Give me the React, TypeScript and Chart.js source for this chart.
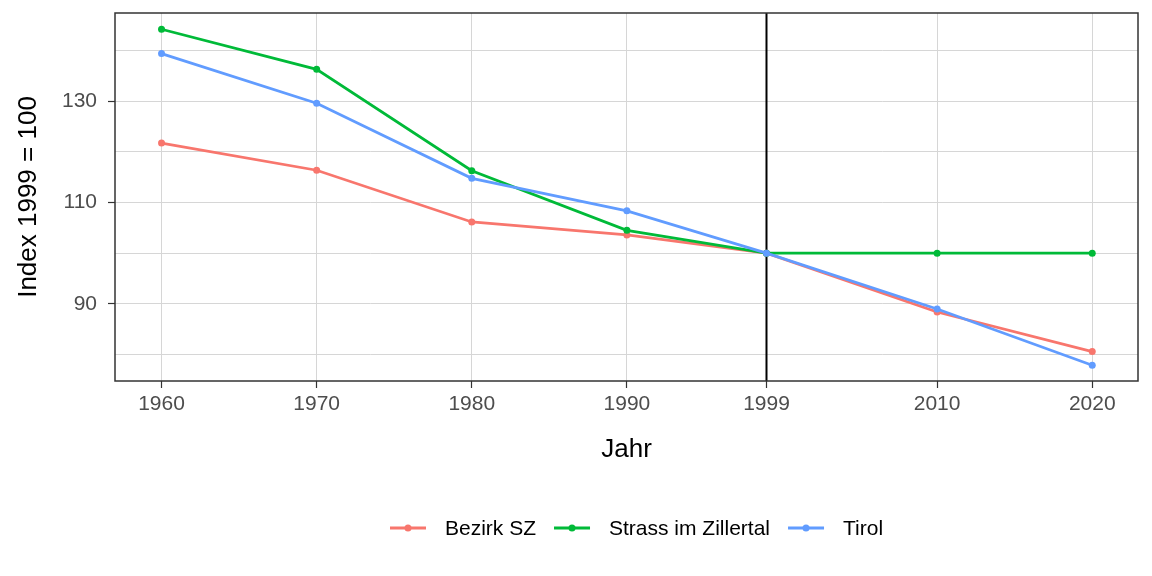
import React, { useEffect, useRef } from "react";
import { Chart, registerables } from "chart.js";

Chart.register(...registerables);

// ---- data ----
const years = [1960, 1970, 1980, 1990, 1999, 2010, 2020];
const xTickValues = [1960, 1970, 1980, 1990, 1999, 2010, 2020];
const yTickValues = [80, 90, 100, 110, 120, 130, 140];
const yLabeledTicks = [90, 110, 130];
const bezirkSZ = [121.7, 116.35, 106.15, 103.6, 100, 88.4, 80.6];
const strass = [144.15, 136.25, 116.25, 104.5, 100, 100, 100];
const tirol = [139.35, 129.55, 114.75, 108.35, 100, 89.0, 77.9];
const seriesNames = ["Bezirk SZ", "Strass im Zillertal", "Tirol"];
const seriesColors = ["#F8766D", "#00BA38", "#619CFF"];
const referenceYear = 1999;
const xTitle = "Jahr";
const yTitle = "Index 1999 = 100";

const FONT = '"Liberation Sans", Arial, Helvetica, sans-serif';

export default function App() {
  const canvasRef = useRef<HTMLCanvasElement | null>(null);

  useEffect(() => {
    const canvas = canvasRef.current;
    if (!canvas) return;
    const seriesValues = [bezirkSZ, strass, tirol];

    const vlinePlugin = {
      id: "vline",
      beforeDatasetsDraw(chart: any) {
        const { ctx, chartArea, scales } = chart;
        const x = scales.x.getPixelForValue(referenceYear);
        ctx.save();
        ctx.strokeStyle = "#000000";
        ctx.lineWidth = 2;
        ctx.beginPath();
        ctx.moveTo(x, chartArea.top);
        ctx.lineTo(x, chartArea.bottom);
        ctx.stroke();
        ctx.restore();
      },
      afterDatasetsDraw(chart: any) {
        const { ctx, chartArea } = chart;
        ctx.save();
        ctx.strokeStyle = "#333333";
        ctx.lineWidth = 1.5;
        ctx.strokeRect(
          chartArea.left,
          chartArea.top,
          chartArea.right - chartArea.left,
          chartArea.bottom - chartArea.top
        );
        ctx.restore();
      },
      afterDraw(chart: any) {
        const ctx = chart.ctx;
        ctx.save();
        ctx.font = `21px ${FONT}`;
        ctx.textBaseline = "middle";
        ctx.textAlign = "left";
        let x = 390;
        const y = 528;
        seriesNames.forEach((name, i) => {
          ctx.strokeStyle = seriesColors[i];
          ctx.lineWidth = 2.8;
          ctx.beginPath();
          ctx.moveTo(x, y);
          ctx.lineTo(x + 36, y);
          ctx.stroke();
          ctx.fillStyle = seriesColors[i];
          ctx.beginPath();
          ctx.arc(x + 18, y, 3.5, 0, Math.PI * 2);
          ctx.fill();
          ctx.fillStyle = "#000000";
          ctx.fillText(name, x + 55, y + 1);
          x += 55 + ctx.measureText(name).width + 18;
        });
        ctx.restore();
      },
    };

    const chart = new Chart(canvas, {
      type: "line",
      data: {
        datasets: seriesNames.map((name, i) => ({
          label: name,
          data: years.map((yr, j) => ({ x: yr, y: seriesValues[i][j] })),
          borderColor: seriesColors[i],
          backgroundColor: seriesColors[i],
          borderWidth: 2.8,
          pointRadius: 3.5,
          pointHoverRadius: 3.5,
          pointBorderWidth: 0,
          tension: 0,
          fill: false,
          order: 3 - i,
        })),
      },
      options: {
        responsive: false,
        animation: false,
        events: [],
        layout: { padding: { top: 13, right: 14, bottom: 0, left: 0 } },
        plugins: {
          legend: { display: false },
          tooltip: { enabled: false },
        },
        scales: {
          x: {
            type: "linear",
            min: 1957,
            max: 2022.95,
            afterBuildTicks(scale: any) {
              scale.ticks = xTickValues.map((v) => ({ value: v }));
            },
            afterFit(scale: any) {
              scale.height = 195;
              scale.paddingLeft = 0;
              scale.paddingRight = 0;
            },
            ticks: {
              autoSkip: false,
              maxRotation: 0,
              padding: 4,
              color: "#4D4D4D",
              font: { family: FONT, size: 21 },
              callback: (v: any) => String(v),
            },
            grid: {
              color: "#D6D6D6",
              lineWidth: 1,
              tickLength: 7,
              tickColor: "#333333",
              tickWidth: 1.2,
            },
            border: { display: false },
            title: {
              display: true,
              text: xTitle,
              color: "#000000",
              font: { family: FONT, size: 26 },
              padding: { top: 0, bottom: 111 },
            },
          },
          y: {
            type: "linear",
            min: 74.8,
            max: 147.35,
            afterBuildTicks(scale: any) {
              scale.ticks = yTickValues.map((v) => ({ value: v }));
            },
            afterFit(scale: any) {
              scale.width = 115;
              scale.paddingTop = 0;
              scale.paddingBottom = 0;
            },
            ticks: {
              autoSkip: false,
              padding: 11,
              color: "#4D4D4D",
              font: { family: FONT, size: 21 },
              callback: (v: any) => (yLabeledTicks.includes(Number(v)) ? String(v) : ""),
            },
            grid: {
              color: "#D6D6D6",
              lineWidth: 1,
              tickLength: 7,
              tickColor: (c: any) =>
                c.tick && yLabeledTicks.includes(c.tick.value) ? "#333333" : "rgba(0,0,0,0)",
              tickWidth: 1.2,
            },
            border: { display: false },
            title: {
              display: true,
              text: yTitle,
              color: "#000000",
              font: { family: FONT, size: 26 },
              padding: { top: 13, bottom: 0 },
            },
          },
        },
      },
      plugins: [vlinePlugin],
    } as any);

    return () => chart.destroy();
  }, []);

  return (
    <div style={{ position: "absolute", left: 0, top: 0, width: 1152, height: 576, background: "#ffffff" }}>
      <canvas ref={canvasRef} width={1152} height={576} style={{ width: 1152, height: 576 }} />
    </div>
  );
}
